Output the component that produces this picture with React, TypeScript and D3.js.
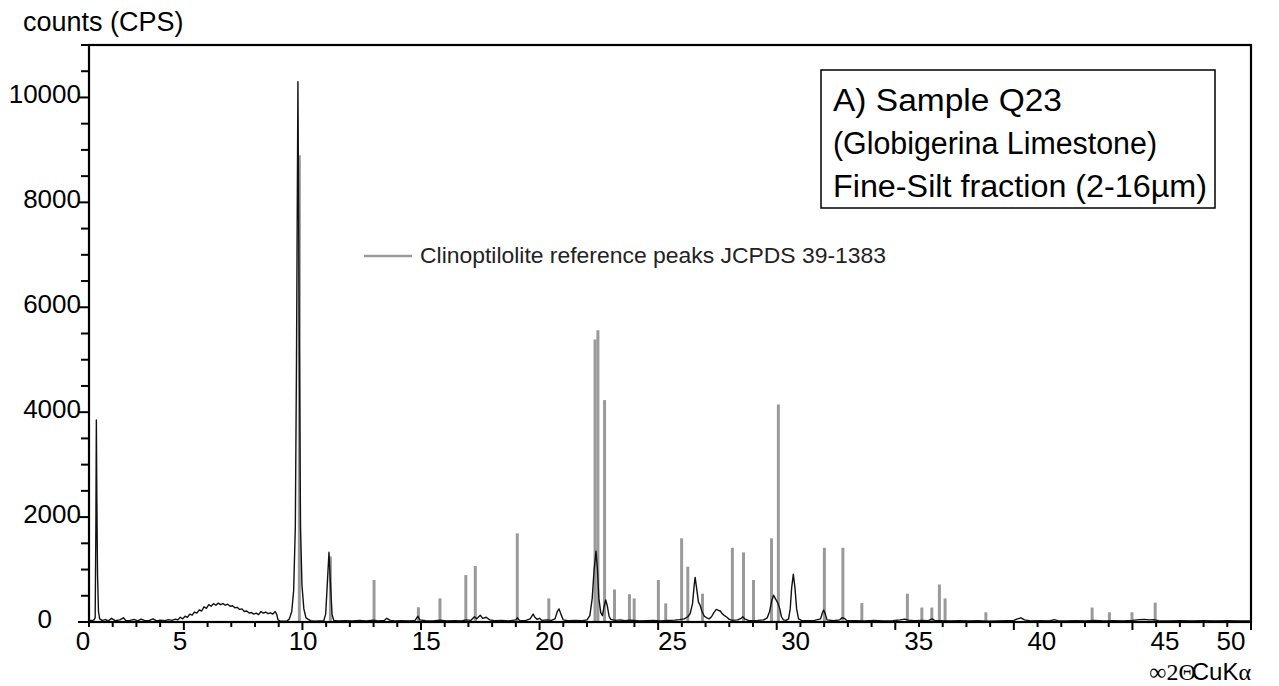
import React from 'react';
import * as d3 from 'd3';

// measured XRD scan (2θ, counts)
const scanTheta = [
  1.0, 1.1, 1.2, 1.26, 1.29, 1.31, 1.33, 1.36, 1.4, 1.45, 1.55, 1.7, 1.8, 1.95, 2.1, 2.3, 2.45, 2.55, 2.7, 2.9,
  3.05, 3.2, 3.35, 3.55, 3.7, 3.85, 4.0, 4.2, 4.35, 4.5, 4.65, 4.75, 4.85, 4.95, 5.05, 5.15, 5.25, 5.35, 5.45, 5.55,
  5.65, 5.75, 5.85, 5.95, 6.05, 6.15, 6.25, 6.35, 6.45, 6.55, 6.65, 6.75, 6.85, 6.95, 7.05, 7.15, 7.25, 7.35, 7.45, 7.55,
  7.65, 7.75, 7.85, 7.95, 8.05, 8.15, 8.25, 8.35, 8.45, 8.55, 8.65, 8.75, 8.85, 8.92, 8.97, 9.05, 9.2, 9.35, 9.45, 9.55,
  9.63, 9.7, 9.75, 9.81, 9.87, 9.92, 9.98, 10.06, 10.15, 10.25, 10.35, 10.5, 10.7, 10.9, 10.98, 11.04, 11.12, 11.19, 11.25, 11.32,
  11.5, 11.8, 12.1, 12.4, 12.7, 13.0, 13.2, 13.45, 13.56, 13.7, 13.9, 14.2, 14.5, 14.75, 14.87, 14.95, 15.2, 15.5, 15.8, 16.1,
  16.4, 16.7, 16.9, 17.1, 17.25, 17.35, 17.5, 17.6, 17.75, 17.9, 18.1, 18.4, 18.7, 19.0, 19.06, 19.15, 19.4, 19.6, 19.73, 19.8,
  19.9, 20.0, 20.1, 20.3, 20.5, 20.65, 20.75, 20.82, 20.9, 21.0, 21.2, 21.5, 21.8, 22.0, 22.12, 22.22, 22.3, 22.38, 22.44, 22.5,
  22.58, 22.65, 22.72, 22.79, 22.86, 22.93, 23.0, 23.2, 23.4, 23.6, 23.8, 24.0, 24.2, 24.5, 24.8, 25.1, 25.4, 25.7, 25.9, 26.1,
  26.25, 26.35, 26.45, 26.52, 26.56, 26.62, 26.7, 26.77, 26.85, 26.95, 27.05, 27.15, 27.25, 27.35, 27.45, 27.55, 27.62, 27.7, 27.8, 27.9,
  28.0, 28.15, 28.35, 28.5, 28.57, 28.65, 28.8, 29.0, 29.2, 29.45, 29.6, 29.7, 29.8, 29.87, 29.95, 30.05, 30.13, 30.2, 30.28, 30.4,
  30.5, 30.57, 30.63, 30.7, 30.77, 30.84, 30.92, 31.05, 31.3, 31.6, 31.85, 31.93, 31.98, 32.05, 32.12, 32.4, 32.65, 32.75, 32.85, 32.95,
  33.3, 33.7, 34.1, 34.5, 34.9, 35.2, 35.4, 35.55, 35.8, 36.1, 36.4, 36.55, 36.65, 36.9, 37.3, 37.7, 38.1, 38.5, 38.9, 39.3,
  39.7, 40.0, 40.15, 40.3, 40.45, 40.7, 41.1, 41.5, 41.7, 41.85, 42.2, 42.6, 43.0, 43.4, 43.8, 44.2, 44.6, 45.0, 45.3, 45.5,
  45.7, 45.9, 46.1, 46.5, 47.0, 47.5, 48.0, 48.5, 49.0, 49.5, 50.0,
];
const scanCps = [
  25, 30, 35, 80, 1800, 3850, 2400, 900, 200, 60, 30, 45, 20, 70, 25, 40, 80, 30, 25, 50,
  20, 55, 25, 30, 60, 20, 35, 25, 45, 30, 55, 40, 90, 60, 110, 90, 150, 130, 190, 170,
  230, 210, 290, 260, 330, 300, 350, 320, 360, 330, 350, 320, 340, 300, 310, 270, 280, 240, 250, 200,
  210, 170, 180, 150, 170, 140, 200, 170, 190, 160, 175, 150, 200, 140, 40, 20, 15, 20, 60, 200,
  600, 1800, 5000, 10300, 5200, 1800, 700, 250, 80, 50, 25, 15, 20, 25, 150, 650, 1330, 650, 140, 30,
  20, 25, 20, 30, 20, 35, 20, 30, 70, 30, 20, 25, 20, 30, 110, 40, 25, 20, 35, 20,
  25, 20, 40, 30, 100, 60, 130, 70, 90, 40, 25, 30, 20, 40, 80, 30, 25, 60, 150, 90,
  50, 70, 30, 40, 30, 60, 200, 250, 150, 40, 25, 30, 25, 40, 120, 450, 1000, 1350, 1000, 450,
  180, 120, 300, 420, 300, 110, 50, 30, 40, 25, 35, 30, 20, 25, 30, 20, 30, 35, 45, 60,
  100, 160, 350, 700, 850, 650, 380, 320, 200, 110, 80, 60, 100, 180, 240, 220, 210, 160, 120, 90,
  50, 30, 40, 70, 100, 60, 30, 25, 30, 40, 80, 200, 420, 510, 440, 360, 250, 100, 40, 30,
  60, 250, 650, 910, 650, 250, 60, 30, 25, 30, 60, 180, 230, 150, 40, 25, 40, 80, 70, 30,
  25, 20, 30, 20, 25, 40, 55, 35, 25, 30, 25, 60, 30, 25, 20, 25, 20, 25, 15, 20,
  25, 30, 60, 80, 40, 20, 25, 20, 45, 25, 20, 25, 20, 30, 20, 25, 20, 30, 45, 50,
  40, 45, 25, 20, 25, 20, 25, 20, 25, 20, 20,
];

// Clinoptilolite reference peaks JCPDS 39-1383 (2θ, scaled counts)
const refTheta = [
  9.87, 11.18, 13.02, 14.89, 15.8, 16.89, 17.29, 19.06, 20.39, 22.34, 22.46, 22.74, 23.16, 23.79, 23.99, 25.01,
  25.32, 25.99, 26.25, 26.87, 28.13, 28.6, 29.02, 29.78, 30.07, 32.01, 32.79, 33.59, 35.51, 36.12, 36.54, 36.86,
  37.1, 38.82, 43.3, 44.03, 44.98, 45.96,
];
const refCps = [
  8900, 1250, 800, 280, 450, 895, 1067, 1690, 450, 5385, 5560, 4230, 620, 530, 450, 800,
  355, 1595, 1055, 540, 1415, 1327, 800, 1595, 4147, 1415, 1415, 360, 540, 275, 275, 715,
  450, 185, 275, 185, 185, 370,
];

const xTicks = d3.range(1, 51);
const xLabels = [0, 5, 10, 15, 20, 25, 30, 35, 40, 45, 50];
const yTicks = d3.range(0, 11001, 500);
const yLabels = [0, 2000, 4000, 6000, 8000, 10000];

const sampleLines = ['A) Sample Q23', '(Globigerina Limestone)', 'Fine-Silt fraction (2-16\u00b5m)'];
const legendText = 'Clinoptilolite reference peaks JCPDS 39-1383';

const W = 1279;
const H = 686;
const left = 89, right = 1251, top = 45, bottom = 622;
const sans = 'Liberation Sans, Arial, sans-serif';
const serif = 'Liberation Serif, Times New Roman, serif';

export default function App() {
  const x = d3.scaleLinear().domain([1, 50]).range([left, right]);
  const y = d3.scaleLinear().domain([0, 11000]).range([bottom, top]);
  // tick labels in the original are spaced a little wider than the ticks
  const xLab = d3.scaleLinear().domain([5, 45]).range([180, 1165]);
  const labX = (v: number) => Math.min(1231, Math.max(83, xLab(v)));

  const pts: [number, number][] = scanTheta.map((t, i) => [t, scanCps[i]]);
  const path = d3.line<[number, number]>().x(d => x(d[0])).y(d => y(d[1]))(pts) || '';

  const boxWidths = [229, 324, 374];

  return (
    <div style={{ position: 'fixed', left: 0, top: 0 }}>
      <svg width={W} height={H} style={{ display: 'block', background: '#fff' }}>
        {/* reference bars */}
        {refTheta.map((t, i) => (
          <line key={'r' + i} x1={x(t)} x2={x(t)} y1={y(0)} y2={y(refCps[i])} stroke="#9a9a9a" strokeWidth={3} />
        ))}

        {/* scan */}
        <path d={path} fill="none" stroke="#111" strokeWidth={1.4} strokeLinejoin="round" />

        {/* frame */}
        <rect x={left} y={top} width={right - left} height={bottom - top} fill="none" stroke="#000" strokeWidth={2.2} />

        {/* x ticks */}
        {xTicks.map(t => (
          <line key={'xt' + t} x1={x(t)} x2={x(t)} y1={bottom} y2={bottom + (t % 5 === 0 ? 8 : 5)} stroke="#000" strokeWidth={2} />
        ))}
        {xLabels.map(v => (
          <text key={'xl' + v} x={labX(v)} y={650} textAnchor="middle" fontFamily={sans} fontSize={26} fill="#000">{v}</text>
        ))}

        {/* y ticks */}
        {yTicks.map(v => (
          <line key={'yt' + v} x1={left} x2={left - (v % 2000 === 0 ? 11 : 8)} y1={y(v)} y2={y(v)} stroke="#000" strokeWidth={2} />
        ))}
        {yLabels.map(v => (
          <text key={'yl' + v} x={v === 0 ? 52 : 81} y={y(v) + 6} textAnchor="end" fontFamily={sans} fontSize={26} fill="#000">{v}</text>
        ))}

        <text x={23} y={31} fontFamily={sans} fontSize={27} fill="#000">counts (CPS)</text>

        {/* x axis title */}
        <text x={1251} y={680} textAnchor="end" fontSize={24} fill="#000">
          <tspan fontFamily={serif}>{'\u221e2\u0398'}</tspan>
          <tspan fontFamily={sans} dx={-4}>CuK</tspan>
          <tspan fontFamily={serif}>{'\u03b1'}</tspan>
        </text>

        {/* sample box */}
        <rect x={821} y={70} width={394} height={138} fill="#fff" stroke="#000" strokeWidth={1.5} />
        {sampleLines.map((s, i) => (
          <text key={'s' + i} x={833} y={111 + i * 43} fontFamily={sans} fontSize={31} fill="#000"
            textLength={boxWidths[i]} lengthAdjust="spacingAndGlyphs">{s}</text>
        ))}

        {/* legend */}
        <line x1={364} x2={412} y1={256} y2={256} stroke="#9a9a9a" strokeWidth={2.5} />
        <text x={420} y={263} fontFamily={sans} fontSize={22} fill="#222" textLength={466} lengthAdjust="spacingAndGlyphs">{legendText}</text>
      </svg>
    </div>
  );
}
